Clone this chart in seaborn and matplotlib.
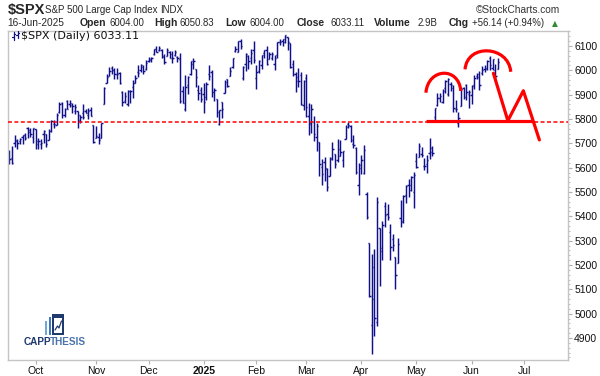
import numpy as np
import pandas as pd
import seaborn as sns
import matplotlib.pyplot as plt
from matplotlib.path import Path
from matplotlib.patches import PathPatch, Rectangle
from matplotlib.lines import Line2D
from matplotlib.ticker import MultipleLocator

# trading calendar: 17-Sep-2024 .. 16-Jun-2025 (plus empty space to the right)
holidays = ["2024-11-28", "2024-12-25", "2025-01-01", "2025-01-09", "2025-01-20",
            "2025-02-17", "2025-04-18", "2025-05-26", "2025-06-19", "2025-07-04"]
bday = pd.offsets.CustomBusinessDay(holidays=holidays)
dates = pd.date_range("2024-09-17", "2025-06-16", freq=bday)
calendar = pd.date_range("2024-09-17", "2025-07-31", freq=bday)

# daily OHLC of $SPX
opens = [5655, 5641, 5703, 5709, 5711, 5727, 5733, 5762, 5755, 5727,
         5757, 5698, 5698, 5737, 5737, 5715, 5752, 5778, 5775, 5829, 5867, 5816,
         5875, 5860, 5857, 5833, 5834, 5816, 5826, 5834, 5816, 5835, 5775,
         5723, 5725, 5722, 5860, 5947, 5977, 6009, 6003, 5986, 5990, 5912, 5874,
         5862, 5917, 5933, 5948, 5993, 6000, 6014, 6004,
         6040, 6042, 6069, 6089, 6082, 6084, 6058, 6060, 6074, 6068, 6063, 6053,
         6048, 5913, 5842, 5940, 5985, 6024, 6006, 5920, 5920,
         5904, 5891, 5983, 5994, 5910, 5882, 5780, 5868, 5906, 5963, 5976, 6015,
         6081, 6076, 6121, 5970, 6027, 6058, 6050, 6082,
         5969, 5999, 6020, 6072, 6083, 6046, 6050, 6026, 6061, 6115, 6121, 6118,
         6135, 6114, 6026, 5983, 5971, 5982, 5857,
         5969, 5812, 5782, 5786, 5726, 5705, 5604, 5624, 5594, 5564, 5636, 5655,
         5632, 5646, 5630, 5718, 5781, 5772, 5696, 5679, 5528,
         5597, 5580, 5492, 5292, 4953, 5193, 4965, 5353, 5256, 5441, 5411, 5335,
         5306, 5232, 5207, 5395, 5381, 5489, 5529, 5508, 5499,
         5626, 5645, 5655, 5605, 5614, 5659, 5679, 5807, 5856, 5886, 5869, 5929,
         5903, 5944, 5928, 5841, 5782, 5855, 5926, 5939, 5902,
         5897, 5939, 5978, 5985, 5987, 6004, 6009, 6050, 6010, 6000, 6004]
highs = [5671, 5690, 5733, 5716, 5721, 5736, 5741, 5767, 5764, 5763,
         5758, 5723, 5718, 5753, 5739, 5758, 5796, 5796, 5823, 5871, 5871, 5845,
         5878, 5878, 5866, 5863, 5834, 5817, 5863, 5843, 5847, 5851, 5775,
         5772, 5742, 5783, 5933, 5983, 6012, 6017, 6009, 6008, 5994, 5916, 5909,
         5920, 5921, 5962, 5980, 6021, 6025, 6020, 6044,
         6053, 6053, 6089, 6100, 6099, 6089, 6066, 6093, 6079, 6079, 6085, 6058,
         6070, 5936, 5982, 5978, 6040, 6049, 6007, 5941, 5930,
         5949, 5950, 6022, 6000, 5927, 5882, 5837, 5871, 5960, 5965, 6014, 6051,
         6101, 6119, 6128, 6018, 6070, 6063, 6087, 6121,
         6022, 6042, 6062, 6084, 6101, 6074, 6076, 6063, 6117, 6128, 6130, 6147,
         6135, 6114, 6043, 5992, 6010, 5994, 5959,
         5986, 5865, 5860, 5812, 5783, 5706, 5636, 5642, 5597, 5645, 5704, 5655,
         5716, 5712, 5670, 5775, 5787, 5776, 5733, 5685, 5620,
         5651, 5695, 5500, 5292, 5246, 5267, 5481, 5353, 5381, 5460, 5450, 5367,
         5329, 5232, 5310, 5469, 5489, 5528, 5554, 5565, 5581,
         5659, 5700, 5683, 5639, 5654, 5721, 5691, 5846, 5907, 5907, 5925, 5959,
         5969, 5954, 5939, 5878, 5829, 5924, 5932, 5944, 5920,
         5938, 5982, 5991, 5999, 6017, 6022, 6043, 6059, 6045, 6026, 6051]
lows = [5614, 5615, 5686, 5677, 5699, 5696, 5713, 5721, 5727, 5703,
        5675, 5677, 5675, 5703, 5684, 5715, 5745, 5764, 5775, 5825, 5805, 5810,
        5840, 5851, 5824, 5821, 5762, 5785, 5800, 5824, 5800, 5812, 5703,
        5723, 5696, 5722, 5860, 5947, 5977, 5986, 5965, 5966, 5942, 5854, 5866,
        5853, 5866, 5885, 5946, 5972, 5992, 5984, 6003,
        6034, 6034, 6062, 6074, 6079, 6049, 6028, 6060, 6051, 6030, 6060, 6035,
        5867, 5866, 5832, 5902, 5982, 6007, 5932, 5879, 5869,
        5824, 5876, 5960, 5890, 5874, 5809, 5774, 5805, 5906, 5931, 5976, 6008,
        6076, 6075, 6089, 5962, 5996, 6007, 6026, 6030,
        5923, 5990, 6007, 6051, 6020, 6046, 6044, 6003, 6052, 6104, 6099, 6112,
        6085, 6008, 5978, 5909, 5933, 5859, 5837,
        5810, 5733, 5743, 5711, 5667, 5565, 5529, 5546, 5505, 5564, 5632, 5597,
        5622, 5646, 5603, 5718, 5763, 5704, 5680, 5573, 5489,
        5574, 5572, 5390, 5069, 4835, 4910, 4949, 5115, 5221, 5358, 5386, 5220,
        5256, 5101, 5207, 5356, 5372, 5455, 5478, 5506, 5434,
        5597, 5645, 5643, 5590, 5579, 5636, 5647, 5786, 5853, 5870, 5866, 5907,
        5895, 5915, 5830, 5828, 5768, 5855, 5883, 5876, 5846,
        5862, 5922, 5966, 5921, 5979, 5994, 6000, 6002, 6003, 5963, 6004]
closes = [5635, 5618, 5714, 5703, 5719, 5733, 5722, 5745, 5738, 5762,
          5709, 5710, 5700, 5751, 5696, 5751, 5792, 5780, 5815, 5860, 5815, 5842,
          5841, 5865, 5854, 5851, 5797, 5810, 5808, 5824, 5833, 5814, 5705,
          5729, 5713, 5783, 5929, 5973, 5996, 6001, 5984, 5985, 5949, 5871, 5894,
          5917, 5917, 5949, 5969, 5987, 6022, 5999, 6032,
          6047, 6050, 6086, 6075, 6090, 6053, 6035, 6084, 6051, 6051, 6074, 6051,
          5872, 5867, 5931, 5974, 6040, 6038, 5971, 5907, 5882,
          5869, 5942, 5975, 5909, 5918, 5827, 5836, 5843, 5950, 5937, 5997, 6049,
          6086, 6119, 6101, 6012, 6068, 6039, 6071, 6041,
          5995, 6038, 6061, 6084, 6026, 6066, 6069, 6052, 6115, 6115, 6130, 6144,
          6118, 6013, 5983, 5955, 5956, 5862, 5955,
          5850, 5778, 5843, 5739, 5770, 5615, 5572, 5599, 5522, 5639, 5675, 5615,
          5675, 5663, 5668, 5768, 5777, 5712, 5693, 5581, 5612,
          5633, 5671, 5397, 5074, 5062, 4983, 5457, 5268, 5363, 5406, 5397, 5276,
          5283, 5158, 5288, 5376, 5485, 5525, 5529, 5561, 5569,
          5604, 5687, 5650, 5607, 5631, 5664, 5660, 5844, 5887, 5893, 5917, 5958,
          5964, 5940, 5845, 5842, 5803, 5922, 5889, 5912, 5912,
          5936, 5970, 5971, 5939, 6000, 6006, 6039, 6022, 6045, 5977, 6033]

# hand-drawn annotations (bar index, price)
support_level = 5789
neckline_x = [158.6, 199.4]
neckline_y = [5790, 5790]
arc1_x = [158.6, 159.4, 171.1, 171.9]
arc1_y = [5908, 6010, 6017, 5915]
arc2_x = [173.5, 174.3, 190.1, 190.9]
arc2_y = [6004, 6112, 6102, 5994]
zig_x = [184.3, 189.8, 195.7, 201.8]
zig_y = [5988, 5793, 5916, 5714]

df = pd.DataFrame({"date": dates, "open": opens, "high": highs,
                   "low": lows, "close": closes})
df["i"] = np.arange(len(df))

# month ticks at first trading day
cal = pd.Series(calendar)
first = cal.groupby([cal.dt.year, cal.dt.month]).head(1)
first = first[first > pd.Timestamp("2024-09-30")]
tick_pos = first.index.to_list()
tick_lab = ["2025" if d.month == 1 else d.strftime("%b") for d in first]

sns.set_theme(style="white")
plt.rcParams["font.family"] = ["Liberation Sans", "DejaVu Sans"]

W, H = 600, 376
fig = plt.figure(figsize=(W / 100, H / 100), dpi=100)
ax = fig.add_axes([8 / W, 16 / H, 560 / W, 329 / H])


def px(x, y):
    return x / W, 1 - y / H


navy = "#10108a"
x = df["i"].to_numpy()
ax.vlines(x, df["low"], df["high"], color=navy, lw=1.05)
ax.hlines(df["open"], x - 0.5, x, color=navy, lw=1.05)
ax.hlines(df["close"], x, x + 0.5, color=navy, lw=1.05)

red = "#ff0000"
ax.axhline(support_level, color=red, lw=1.1, dashes=(2.6, 1.6), zorder=4)
ax.plot(neckline_x, neckline_y, color=red, lw=2.3, solid_capstyle="butt", zorder=5)
ax.plot(zig_x, zig_y, color=red, lw=2.3, zorder=5)
for cx, cy in [(arc1_x, arc1_y), (arc2_x, arc2_y)]:
    path = Path(list(zip(cx, cy)), [Path.MOVETO, Path.CURVE4, Path.CURVE4, Path.CURVE4])
    ax.add_patch(PathPatch(path, fill=False, ec=red, lw=2.3, zorder=5))

ax.set_xlim(-0.53, 212.7)
ax.set_ylim(4809.6, 6161.6)

ax.yaxis.tick_right()
ax.set_yticks(range(4900, 6101, 100))
ax.yaxis.set_minor_locator(MultipleLocator(20))
ax.tick_params(axis="y", which="major", direction="out", length=3, width=0.8,
               color="#b0b0b0", labelsize=7.5, pad=1.5, labelcolor="#111111")
ax.tick_params(axis="y", which="minor", direction="out", length=1.5, width=0.8,
               color="#c0c0c0", right=True)
ax.set_xticks(tick_pos)
ax.set_xticklabels(tick_lab)
ax.tick_params(axis="x", direction="out", length=3, width=0.8, color="#b0b0b0",
               labelsize=7.5, pad=1.5, labelcolor="#111111", bottom=True)
for t in ax.get_xticklabels():
    if t.get_text() == "2025":
        t.set_fontweight("bold")
for s in ax.spines.values():
    s.set_color("#c4c4c4")
    s.set_linewidth(1.0)
ax.set_xlabel("")
ax.set_ylabel("")

# header
fig.text(*px(7.5, 10), "$SPX", fontsize=10.5, fontweight="bold", va="center")
fig.text(*px(45, 10), "S&P 500 Large Cap Index", fontsize=7, va="center")
fig.text(*px(160, 10), "INDX", fontsize=7, va="center")
fig.text(*px(560.5, 10), "©StockCharts.com", fontsize=7.3, va="center", ha="right",
         color="#333333")
row2 = [(7.5, "16-Jun-2025", "normal"), (79.2, "Open", "bold"), (109.4, "6004.00", "normal"),
        (154.7, "High", "bold"), (179.0, "6050.83", "normal"), (225.7, "Low", "bold"),
        (249.0, "6004.00", "normal"), (297.0, "Close", "bold"), (330.6, "6033.11", "normal"),
        (373.6, "Volume", "bold"), (417.7, "2.9B", "normal"), (449.0, "Chg", "bold"),
        (471.7, "+56.14 (+0.94%)", "normal")]
for xx, s, w in row2:
    size = 7.5 if w == "bold" else 6.9
    if s == "16-Jun-2025":
        size = 7.3
    fig.text(*px(xx, 23.5), s, fontsize=size, fontweight=w, va="center")
fig.text(*px(552, 23.5), "▲", fontsize=5.5, color="#2e8b2e", va="center",
         family=["DejaVu Sans"])

# legend line inside the chart
fig.text(*px(21, 35.7), "$SPX (Daily) 6033.11", fontsize=8, va="center",
         family=["DejaVu Sans"], color="#111111")
for lx, y0, y1, yo, yc in [(13.5, 32, 39.5, 37, 34), (17.5, 31, 38, 35, 33)]:
    fig.add_artist(Line2D([lx / W, lx / W], [1 - y0 / H, 1 - y1 / H], color=navy, lw=0.9))
    fig.add_artist(Line2D([(lx - 1.3) / W, lx / W], [1 - yo / H] * 2, color=navy, lw=0.9))
    fig.add_artist(Line2D([lx / W, (lx + 1.3) / W], [1 - yc / H] * 2, color=navy, lw=0.9))

# logo
fig.add_artist(Rectangle(px(45.3, 335), 1.8 / W, 14.3 / H, transform=fig.transFigure,
                         color="#6fa8dc", lw=0))
fig.add_artist(Rectangle(px(48.6, 335), 2.2 / W, 18.3 / H, transform=fig.transFigure,
                         color="#3d78c0", lw=0))
fig.add_artist(Rectangle(px(52, 335), 12.3 / W, 21 / H, transform=fig.transFigure,
                         color="#1f3a6e", lw=0))
fig.add_artist(Rectangle(px(54, 332.8), 8.3 / W, 15 / H, transform=fig.transFigure,
                         color="white", lw=0))
fig.add_artist(Line2D([55 / W, 57.5 / W, 59 / W, 61.5 / W],
                      [1 - 330 / H, 1 - 326 / H, 1 - 328 / H, 1 - 321 / H],
                      color="#1f3a6e", lw=0.9))
capp = fig.text(*px(24, 342.3), "CAPP", fontsize=7.2, fontweight="bold", color="#1f3a6e",
                va="center")
fig.canvas.draw()
bb = capp.get_window_extent()
fig.text((bb.x1 - 1.5) / W, 1 - 342.3 / H, "THESIS", fontsize=7.2, fontweight="bold",
         color="#4a72ad", va="center")

fig.savefig("out.png", dpi=100)
